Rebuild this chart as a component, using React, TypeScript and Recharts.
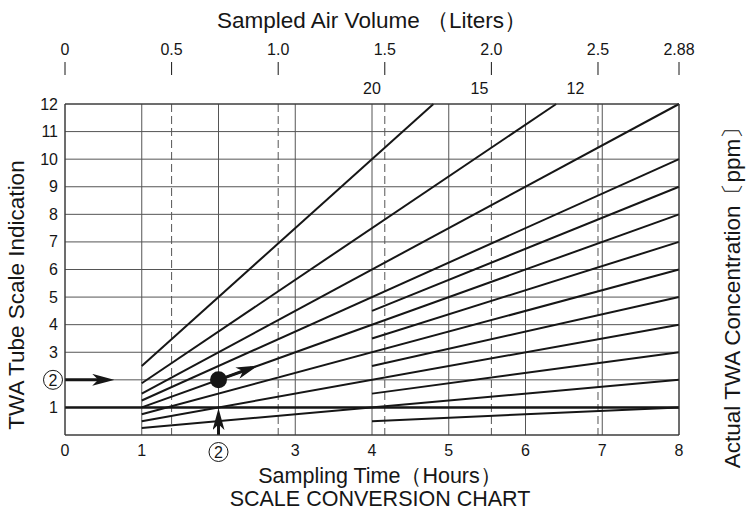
import { LineChart, Line, XAxis, YAxis, CartesianGrid, ReferenceLine, ReferenceDot } from 'recharts';

const FONT = '"Liberation Sans", Arial, sans-serif';
const INK = '#161616';
const GRID = '#555';

// bottom axis: sampling time (hours)
const timeTicks = [0, 1, 2, 3, 4, 5, 6, 7, 8];
// left axis: TWA tube scale indication
const scaleTicks = [1, 2, 3, 4, 5, 6, 7, 8, 9, 10, 11, 12];
// top axis: sampled air volume (liters), 2.88 L at 8 h
const volumeTicks = [0, 0.5, 1.0, 1.5, 2.0, 2.5, 2.88];
const volumeLabels = ['0', '0.5', '1.0', '1.5', '2.0', '2.5', '2.88'];
const dashedVolumes = [0.5, 1.0, 1.5, 2.0, 2.5];
// right axis: actual TWA concentration (ppm), printed just above each line end
const ppmTicks = [1, 2, 3, 4, 5, 6, 7, 8, 9, 10];

// concentration lines: [hours, tube reading] at both ends
const ppm20 = [{ t: 1, v: 2.5 }, { t: 4.8, v: 12 }];
const ppm15 = [{ t: 1, v: 1.875 }, { t: 6.4, v: 12 }];
const ppm12 = [{ t: 1, v: 1.5 }, { t: 8, v: 12 }];
const ppm10 = [{ t: 1, v: 1.25 }, { t: 8, v: 10 }];
const ppm9 = [{ t: 4, v: 4.5 }, { t: 8, v: 9 }];
const ppm8 = [{ t: 1, v: 1 }, { t: 8, v: 8 }];
const ppm7 = [{ t: 4, v: 3.5 }, { t: 8, v: 7 }];
const ppm6 = [{ t: 1, v: 0.75 }, { t: 8, v: 6 }];
const ppm5 = [{ t: 4, v: 2.5 }, { t: 8, v: 5 }];
const ppm4 = [{ t: 1, v: 0.5 }, { t: 8, v: 4 }];
const ppm3 = [{ t: 4, v: 1.5 }, { t: 8, v: 3 }];
const ppm2 = [{ t: 1, v: 0.25 }, { t: 8, v: 2 }];
const ppm1 = [{ t: 4, v: 0.5 }, { t: 8, v: 1 }];
const concentrationLines = [ppm20, ppm15, ppm12, ppm10, ppm9, ppm8, ppm7, ppm6, ppm5, ppm4, ppm3, ppm2, ppm1];

// volume axis span (invisible series so the top axis gets a scale)
const volumeSpan = [{ vol: 0, v: 0 }, { vol: 2.88, v: 0 }];

// labels for the lines that leave through the top
const topLabels = ['20', '15', '12'];
const topLabelTimes = [4.0, 5.4, 6.65];

// worked example: tube reads 2 after 2 hours
const readingArrow = [{ t: 0, v: 2 }, { t: 0.55, v: 2 }];
const timeArrow = [{ t: 2, v: 0 }, { t: 2, v: 0.72 }];
const resultArrow = [{ t: 2, v: 2 }, { t: 2.43, v: 2.43 }];
const examplePoint = { t: 2, v: 2 };

const Circled = ({ cx, cy, text }: { cx: number; cy: number; text: string }) => (
  <g>
    <circle cx={cx} cy={cy} r={9.5} fill="#fff" stroke={INK} strokeWidth={1} />
    <text x={cx} y={cy + 0.5} textAnchor="middle" dominantBaseline="central" fontSize={16} fill={INK} fontFamily={FONT}>
      {text}
    </text>
  </g>
);

const TimeTick = ({ x, y, payload }: any) => {
  if (payload.value === 2) return <Circled cx={x} cy={y + 17} text="2" />;
  return (
    <text x={x} y={y + 15} textAnchor="middle" dominantBaseline="central" fontSize={16} fill={INK} fontFamily={FONT}>
      {payload.value}
    </text>
  );
};

const ScaleTick = ({ x, y, payload }: any) => {
  if (payload.value === 2) return <Circled cx={x - 12} cy={y} text="2" />;
  return (
    <text x={x - 7} y={y} textAnchor="end" dominantBaseline="central" fontSize={16} fill={INK} fontFamily={FONT}>
      {payload.value}
    </text>
  );
};

const PpmTick = ({ x, y, payload }: any) => (
  <text x={x + 25} y={y - 15} textAnchor="middle" dominantBaseline="central" fontSize={16} fill={INK} fontFamily={FONT}>
    {payload.value}
  </text>
);

const VolumeTick = ({ x, y, payload, index }: any) => (
  <g>
    <line x1={x} x2={x} y1={y - 42} y2={y - 29} stroke={INK} strokeWidth={1} />
    <text x={x} y={y - 55} textAnchor="middle" dominantBaseline="central" fontSize={16} fill={INK} fontFamily={FONT}>
      {volumeLabels[index] ?? payload.value}
    </text>
  </g>
);

const titleStyle = {
  position: 'absolute' as const,
  transform: 'translate(-50%, -50%)',
  whiteSpace: 'nowrap' as const,
  fontFamily: FONT,
  fontSize: 22.5,
  lineHeight: 1,
  color: INK,
};

export default function App() {
  return (
    <div style={{ position: 'absolute', left: 0, top: 0, width: 746, height: 514, background: '#fff' }}>
      <LineChart width={746} height={514} margin={{ top: 0, right: 0, bottom: 0, left: 0 }}>
        <defs>
          <marker id="arrowHead" viewBox="0 0 22 12" refX="15" refY="6" markerWidth="22" markerHeight="12" markerUnits="userSpaceOnUse" orient="auto">
            <path d="M0,0 L22,6 L0,12 L6,6 Z" fill={INK} />
          </marker>
        </defs>
        <CartesianGrid stroke={GRID} strokeWidth={1} />
        <XAxis
          dataKey="t"
          type="number"
          domain={[0, 8]}
          ticks={timeTicks}
          height={79}
          tickLine={false}
          tickSize={0}
          tickMargin={0}
          axisLine={{ stroke: '#333' }}
          tick={<TimeTick />}
          interval={0}
        />
        <XAxis
          xAxisId="vol"
          dataKey="vol"
          orientation="top"
          type="number"
          domain={[0, 2.88]}
          ticks={volumeTicks}
          height={104}
          tickLine={false}
          tickSize={0}
          tickMargin={0}
          axisLine={{ stroke: '#333' }}
          tick={<VolumeTick />}
          interval={0}
        />
        <YAxis
          type="number"
          domain={[0, 12]}
          ticks={scaleTicks}
          width={65}
          tickLine={false}
          tickSize={0}
          tickMargin={0}
          axisLine={{ stroke: '#333' }}
          tick={<ScaleTick />}
          interval={0}
        />
        <YAxis
          yAxisId="right"
          orientation="right"
          type="number"
          domain={[0, 12]}
          ticks={ppmTicks}
          width={67}
          tickLine={false}
          tickSize={0}
          tickMargin={0}
          axisLine={{ stroke: '#333' }}
          tick={<PpmTick />}
          interval={0}
        />
        <Line
          xAxisId="vol"
          data={volumeSpan}
          dataKey="v"
          stroke="none"
          dot={false}
          activeDot={false}
          isAnimationActive={false}
        />
        {dashedVolumes.map((v) => (
          <ReferenceLine key={`vol-${v}`} xAxisId="vol" x={v} stroke={GRID} strokeDasharray="8 4" strokeWidth={1} />
        ))}
        <ReferenceLine y={1} stroke={INK} strokeWidth={2.5} />
        {concentrationLines.map((d, i) => (
          <Line
            key={`ppm-${i}`}
            data={d}
            dataKey="v"
            type="linear"
            stroke={INK}
            strokeWidth={2}
            dot={false}
            activeDot={false}
            isAnimationActive={false}
          />
        ))}
        {[readingArrow, timeArrow, resultArrow].map((d, i) => (
          <Line
            key={`arrow-${i}`}
            data={d}
            dataKey="v"
            type="linear"
            stroke={INK}
            strokeWidth={3}
            dot={false}
            activeDot={false}
            markerEnd="url(#arrowHead)"
            isAnimationActive={false}
          />
        ))}
        <ReferenceDot x={examplePoint.t} y={examplePoint.v} r={8.5} fill={INK} stroke="none" />
        {topLabels.map((label, i) => (
          <ReferenceDot
            key={`top-${label}`}
            x={topLabelTimes[i]}
            y={12}
            r={1}
            fill="none"
            stroke="none"
            ifOverflow="visible"
            label={{ value: label, position: 'top', offset: 9, fontSize: 16, fill: INK, fontFamily: FONT }}
          />
        ))}
      </LineChart>
      <div style={{ ...titleStyle, left: 372, top: 21 }}>Sampled Air Volume （Liters）</div>
      <div style={{ ...titleStyle, left: 380, top: 477, fontSize: 21.5 }}>Sampling Time（Hours）</div>
      <div style={{ ...titleStyle, left: 380, top: 500, fontSize: 21.5 }}>SCALE CONVERSION CHART</div>
      <div style={{ ...titleStyle, left: 17, top: 295, transform: 'translate(-50%, -50%) rotate(-90deg)' }}>
        TWA Tube Scale Indication
      </div>
      <div style={{ ...titleStyle, left: 733, top: 292, fontSize: 22.5, transform: 'translate(-50%, -50%) rotate(-90deg)' }}>
        Actual TWA Concentration〔ppm〕
      </div>
    </div>
  );
}
